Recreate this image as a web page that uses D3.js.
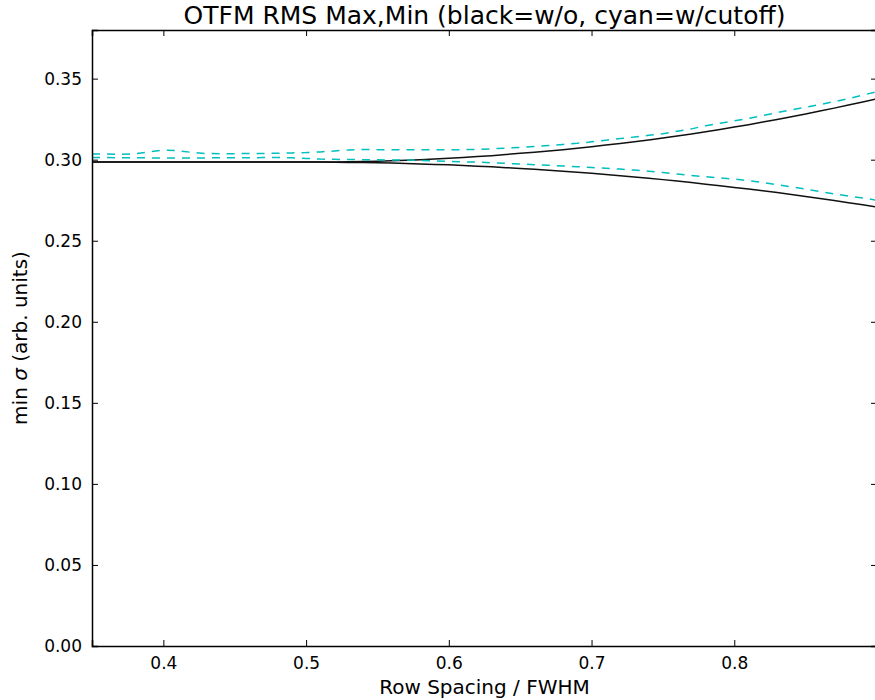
<!DOCTYPE html>
<html lang="en">
<head>
    <meta charset="UTF-8">
    <title>OTFM RMS Max,Min</title>
    <script src="https://d3js.org/d3.v7.min.js"></script>
    <style>
        body { margin: 0; background: #fff; }
        text { font-family: "DejaVu Sans", sans-serif; fill: #000; }
    </style>
</head>
<body>
    <div id="chart"></div>

    <script>
        // Row spacing / FWHM samples
        const spacing = [
            0.35, 0.36, 0.37, 0.38, 0.39, 0.40, 0.41, 0.42, 0.43, 0.44,
            0.45, 0.46, 0.47, 0.48, 0.49, 0.50, 0.51, 0.52, 0.53, 0.54,
            0.55, 0.56, 0.57, 0.58, 0.59, 0.60, 0.61, 0.62, 0.63, 0.64,
            0.65, 0.66, 0.67, 0.68, 0.69, 0.70, 0.71, 0.72, 0.73, 0.74,
            0.75, 0.76, 0.77, 0.78, 0.79, 0.80, 0.81, 0.82, 0.83, 0.84,
            0.85, 0.86, 0.87, 0.88, 0.89, 0.90
        ];

        // without cutoff (black)
        const blackMax = [
            0.2985, 0.2985, 0.2985, 0.2985, 0.2985, 0.2985, 0.2985, 0.2985, 0.2985, 0.2985,
            0.2985, 0.2985, 0.2985, 0.2985, 0.2985, 0.2985, 0.2985, 0.2986, 0.2987, 0.2989,
            0.2991, 0.2994, 0.2997, 0.3000, 0.3004, 0.3009, 0.3014, 0.3019, 0.3025, 0.3032,
            0.3039, 0.3046, 0.3054, 0.3062, 0.3071, 0.3080, 0.3090, 0.3100, 0.3111, 0.3122,
            0.3134, 0.3146, 0.3159, 0.3172, 0.3186, 0.3201, 0.3216, 0.3232, 0.3248, 0.3265,
            0.3282, 0.3300, 0.3318, 0.3337, 0.3356, 0.3376
        ];
        const blackMin = [
            0.2985, 0.2985, 0.2985, 0.2985, 0.2985, 0.2985, 0.2985, 0.2985, 0.2985, 0.2985,
            0.2985, 0.2985, 0.2985, 0.2985, 0.2985, 0.2985, 0.2985, 0.2984, 0.2983, 0.2982,
            0.2981, 0.2979, 0.2977, 0.2974, 0.2971, 0.2968, 0.2964, 0.2960, 0.2956, 0.2951,
            0.2946, 0.2941, 0.2935, 0.2929, 0.2923, 0.2916, 0.2909, 0.2901, 0.2893, 0.2885,
            0.2877, 0.2868, 0.2859, 0.2849, 0.2839, 0.2829, 0.2819, 0.2808, 0.2797, 0.2785,
            0.2773, 0.2761, 0.2748, 0.2735, 0.2722, 0.2708
        ];

        // with cutoff (cyan)
        const cyanMax = [
            0.3035, 0.3035, 0.3033, 0.3036, 0.3048, 0.3060, 0.3055, 0.3045, 0.3038, 0.3037,
            0.3037, 0.3038, 0.3038, 0.3040, 0.3042, 0.3044, 0.3048, 0.3054, 0.3060, 0.3063,
            0.3062, 0.3062, 0.3061, 0.3061, 0.3061, 0.3061, 0.3062, 0.3063, 0.3067, 0.3071,
            0.3076, 0.3081, 0.3087, 0.3094, 0.3101, 0.3110, 0.3120, 0.3130, 0.3140, 0.3150,
            0.3160, 0.3175, 0.3190, 0.3210, 0.3225, 0.3240, 0.3255, 0.3272, 0.3290, 0.3307,
            0.3323, 0.3340, 0.3358, 0.3377, 0.3398, 0.3420
        ];
        const cyanMin = [
            0.3014, 0.3013, 0.3012, 0.3012, 0.3011, 0.3010, 0.3010, 0.3010, 0.3011, 0.3012,
            0.3012, 0.3012, 0.3013, 0.3014, 0.3012, 0.3008, 0.3004, 0.3002, 0.3001, 0.3000,
            0.2999, 0.2998, 0.2998, 0.2996, 0.2992, 0.2989, 0.2987, 0.2985, 0.2981, 0.2977,
            0.2973, 0.2969, 0.2965, 0.2961, 0.2957, 0.2952, 0.2947, 0.2942, 0.2936, 0.2929,
            0.2921, 0.2912, 0.2902, 0.2895, 0.2888, 0.2880, 0.2870, 0.2859, 0.2846, 0.2832,
            0.2818, 0.2803, 0.2789, 0.2775, 0.2764, 0.2750
        ];

        const xTicks = [0.4, 0.5, 0.6, 0.7, 0.8];
        const yTicks = [0.00, 0.05, 0.10, 0.15, 0.20, 0.25, 0.30, 0.35];

        const width = 875;
        const height = 700;
        const margin = { top: 30, right: -2, bottom: 54, left: 92 };

        const svg = d3.select("#chart")
            .append("svg")
            .attr("width", width)
            .attr("height", height);

        const x = d3.scaleLinear()
            .domain([0.35, 0.9])
            .range([margin.left, width - margin.right]);

        const y = d3.scaleLinear()
            .domain([0, 0.38])
            .range([height - margin.bottom, margin.top]);

        svg.append("clipPath").attr("id", "plot-clip")
            .append("rect")
            .attr("x", x(0.35)).attr("y", y(0.38))
            .attr("width", x(0.9) - x(0.35))
            .attr("height", y(0) - y(0.38));

        // curves
        const line = d3.line()
            .x((d, i) => x(spacing[i]))
            .y(d => y(d));

        const series = [
            { values: blackMax, color: "#111", dash: null },
            { values: blackMin, color: "#111", dash: null },
            { values: cyanMax, color: "#00bfbf", dash: "8,7" },
            { values: cyanMin, color: "#00bfbf", dash: "8,7" }
        ];

        svg.append("g")
            .attr("clip-path", "url(#plot-clip)")
            .selectAll("path")
            .data(series)
            .join("path")
            .attr("d", d => line(d.values))
            .attr("fill", "none")
            .attr("stroke", d => d.color)
            .attr("stroke-width", 1.5)
            .attr("stroke-dasharray", d => d.dash);

        // axes, ticks pointing inwards like matplotlib classic
        const tickLen = 6;
        const fmtX = d3.format(".1f");
        const fmtY = d3.format(".2f");

        const bottomAxis = svg.append("g")
            .attr("transform", `translate(0,${y(0)})`)
            .call(d3.axisBottom(x).tickValues(xTicks).tickSize(-tickLen).tickPadding(11).tickFormat(fmtX));
        const topAxis = svg.append("g")
            .attr("transform", `translate(0,${y(0.38)})`)
            .call(d3.axisTop(x).tickValues(xTicks).tickSize(-tickLen).tickFormat(""));
        const leftAxis = svg.append("g")
            .attr("transform", `translate(${x(0.35)},0)`)
            .call(d3.axisLeft(y).tickValues(yTicks).tickSize(-tickLen).tickPadding(10).tickFormat(fmtY));
        const rightAxis = svg.append("g")
            .attr("transform", `translate(${x(0.9)},0)`)
            .call(d3.axisRight(y).tickValues(yTicks).tickSize(-tickLen).tickFormat(""));

        [bottomAxis, topAxis, leftAxis, rightAxis].forEach(g => {
            g.select(".domain").attr("stroke", "#000").attr("stroke-width", 1.5);
            g.selectAll(".tick line").attr("stroke", "#000").attr("stroke-width", 1);
            g.selectAll(".tick text")
                .style("font-family", "DejaVu Sans, sans-serif")
                .style("font-size", "17px");
        });

        // title and labels
        svg.append("text")
            .attr("x", (x(0.35) + x(0.9)) / 2)
            .attr("y", 24)
            .attr("text-anchor", "middle")
            .style("font-size", "25px")
            .text("OTFM RMS Max,Min (black=w/o, cyan=w/cutoff)");

        svg.append("text")
            .attr("x", (x(0.35) + x(0.9)) / 2)
            .attr("y", 694)
            .attr("text-anchor", "middle")
            .style("font-size", "20px")
            .text("Row Spacing / FWHM");

        const yLabel = svg.append("text")
            .attr("transform", `translate(27,${(y(0) + y(0.38)) / 2}) rotate(-90)`)
            .attr("text-anchor", "middle")
            .style("font-size", "20px");
        yLabel.append("tspan").text("min ");
        yLabel.append("tspan").style("font-style", "italic").text("σ");
        yLabel.append("tspan").text(" (arb. units)");
    </script>
</body>
</html>
